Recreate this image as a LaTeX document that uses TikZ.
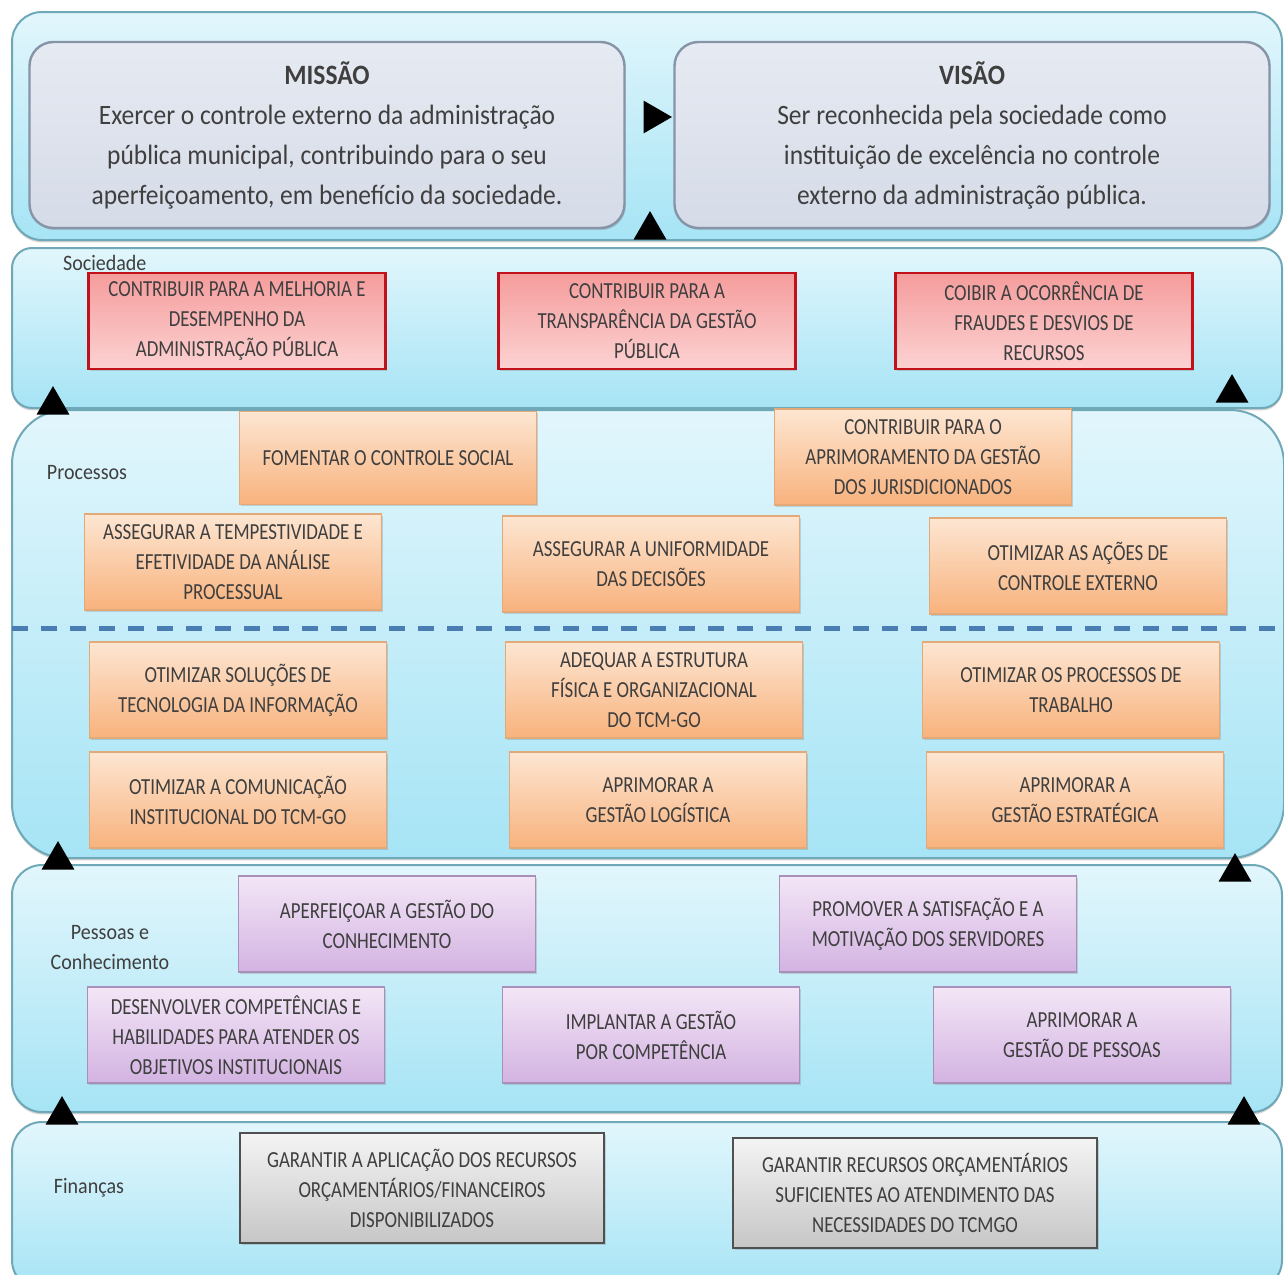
\documentclass[tikz,border=0pt]{standalone}
\usepackage{fontspec}
\setmainfont{Carlito}
\newfontfamily\boxfont[FakeStretch=0.82]{Carlito}
\newfontfamily\headfont[FakeStretch=0.91]{Carlito}
\usepackage{tikz}
\usetikzlibrary{shapes.geometric,shadows}

\definecolor{bandtop}{HTML}{E2F6FC}
\definecolor{bandbot}{HTML}{A6E4F5}
\definecolor{bandline}{HTML}{6FA9B8}
\definecolor{txt}{HTML}{3F3F3F}
\definecolor{redline}{HTML}{C1121C}
\definecolor{redtop}{HTML}{F59C9C}
\definecolor{redbot}{HTML}{FCD2D2}
\definecolor{orgtop}{HTML}{FDE6D2}
\definecolor{orgbot}{HTML}{F8B27D}
\definecolor{orgline}{HTML}{E3A979}
\definecolor{purtop}{HTML}{F3E6F6}
\definecolor{purbot}{HTML}{D3B3E2}
\definecolor{purline}{HTML}{A890B8}
\definecolor{grytop}{HTML}{F4F4F4}
\definecolor{grybot}{HTML}{C6C6C6}
\definecolor{gryline}{HTML}{505050}
\definecolor{mvtop}{HTML}{E6EAF2}
\definecolor{mvbot}{HTML}{D5DBE7}
\definecolor{mvline}{HTML}{8794A8}
\definecolor{dashblue}{HTML}{4A7DB2}

\begin{document}
\begin{tikzpicture}[x=0.5pt, y=-0.5pt,
  band/.style={draw=bandline, line width=1pt, top color=bandtop, bottom color=bandbot, minimum width=635pt, inner sep=0pt,
    drop shadow={opacity=0.35, shadow xshift=0pt, shadow yshift=-1.2pt}},
  goal/.style={line width=0.8pt, align=center, text=txt, font=\boxfont\fontsize{11.5}{15}\selectfont,
    minimum width=148.5pt, minimum height=48pt, inner sep=1pt,
    drop shadow={opacity=0.3, shadow xshift=0.8pt, shadow yshift=-0.8pt}},
  soc/.style={goal, draw=redline, line width=1.4pt, top color=redtop, bottom color=redbot},
  proc/.style={goal, draw=orgline, top color=orgtop, bottom color=orgbot},
  pess/.style={goal, draw=purline, top color=purtop, bottom color=purbot},
  fin/.style={goal, draw=gryline, top color=grytop, bottom color=grybot, minimum width=182pt, minimum height=55pt},
  mv/.style={draw=mvline, line width=1.2pt, rounded corners=12pt, top color=mvtop, bottom color=mvbot, align=center,
    text=txt, font=\headfont\fontsize{14}{20}\selectfont, minimum width=297.5pt, minimum height=93pt,
    drop shadow={opacity=0.35, shadow xshift=0.6pt, shadow yshift=-1pt}},
  persp/.style={text=txt, align=center, font=\headfont\fontsize{11}{15}\selectfont},
  tri/.style={regular polygon, regular polygon sides=3, fill=black, inner sep=0pt, minimum size=19pt}]
  \useasboundingbox (0,0) rectangle (1284,1274);
  \clip (0,0) rectangle (1284,1274);
  \fill[white] (0,0) rectangle (1284,1274);

  % perspective bands, top to bottom
  \node[band, rounded corners=15pt, minimum height=114pt] (bmv) at (647,126) {};
  \node[band, rounded corners=10pt, minimum height=80pt] (bsoc) at (647,328) {};
  \node[band, rounded corners=27pt, minimum height=224pt, minimum width=636pt] (bproc) at (648,634) {};
  \node[band, rounded corners=15pt, minimum height=123.5pt] (bpess) at (647,988.5) {};
  \node[band, rounded corners=15pt, minimum height=84pt] (bfin) at (647,1206) {};

  % mission and vision
  \node[mv] (missao) at (327,135) {\textbf{MISSÃO}\\Exercer o controle externo da administração\\pública municipal, contribuindo para o seu\\aperfeiçoamento, em benefício da sociedade.};
  \node[mv] (visao) at (972,135) {\textbf{VISÃO}\\Ser reconhecida pela sociedade como\\instituição de excelência no controle\\externo da administração pública.};

  % Sociedade
  \node[persp, anchor=west] (lsoc) at (56,263) {Sociedade};
  \node[soc] (s1) at (237,321) {CONTRIBUIR PARA A MELHORIA E\\DESEMPENHO DA\\ADMINISTRAÇÃO PÚBLICA};
  \node[soc] (s2) at (647,321) {CONTRIBUIR PARA A\\TRANSPARÊNCIA DA GESTÃO\\PÚBLICA};
  \node[soc] (s3) at (1044,321) {COIBIR A OCORRÊNCIA DE\\FRAUDES E DESVIOS DE\\RECURSOS};

  % Processos
  \node[persp] (lproc) at (87,473) {Processos};
  \node[proc, minimum height=46.5pt] (p1) at (388,458) {FOMENTAR O CONTROLE SOCIAL};
  \node[proc] (p2) at (923,457) {CONTRIBUIR PARA O\\APRIMORAMENTO DA GESTÃO\\DOS JURISDICIONADOS};
  \node[proc] (p3) at (233,562) {ASSEGURAR A TEMPESTIVIDADE E\\EFETIVIDADE DA ANÁLISE\\PROCESSUAL};
  \node[proc] (p4) at (651,564) {ASSEGURAR A UNIFORMIDADE\\DAS DECISÕES};
  \node[proc] (p5) at (1078,566) {OTIMIZAR AS AÇÕES DE\\CONTROLE EXTERNO};
  \draw[dashblue, line width=2.5pt, dash pattern=on 8pt off 6.5pt] (12,628) -- (1284,628);
  \node[proc] (p6) at (238,690) {OTIMIZAR SOLUÇÕES DE\\TECNOLOGIA DA INFORMAÇÃO};
  \node[proc] (p7) at (654,690) {ADEQUAR A ESTRUTURA\\FÍSICA E ORGANIZACIONAL\\DO TCM-GO};
  \node[proc] (p8) at (1071,690) {OTIMIZAR OS PROCESSOS DE\\TRABALHO};
  \node[proc] (p9) at (238,800) {OTIMIZAR A COMUNICAÇÃO\\INSTITUCIONAL DO TCM-GO};
  \node[proc] (p10) at (658,800) {APRIMORAR A\\GESTÃO LOGÍSTICA};
  \node[proc] (p11) at (1075,800) {APRIMORAR A\\GESTÃO ESTRATÉGICA};

  % Pessoas e Conhecimento
  \node[persp] (lpess) at (110,948) {Pessoas e\\Conhecimento};
  \node[pess] (k1) at (387,924) {APERFEIÇOAR A GESTÃO DO\\CONHECIMENTO};
  \node[pess] (k2) at (928,924) {PROMOVER A SATISFAÇÃO E A\\MOTIVAÇÃO DOS SERVIDORES};
  \node[pess] (k3) at (236,1035) {DESENVOLVER COMPETÊNCIAS E\\HABILIDADES PARA ATENDER OS\\OBJETIVOS INSTITUCIONAIS};
  \node[pess] (k4) at (651,1035) {IMPLANTAR A GESTÃO\\POR COMPETÊNCIA};
  \node[pess] (k5) at (1082,1035) {APRIMORAR A\\GESTÃO DE PESSOAS};

  % Financas
  \node[persp] (lfin) at (89,1188) {Finanças};
  \node[fin] (f1) at (422,1188) {GARANTIR A APLICAÇÃO DOS RECURSOS\\ORÇAMENTÁRIOS/FINANCEIROS\\DISPONIBILIZADOS};
  \node[fin] (f2) at (915,1193) {GARANTIR RECURSOS ORÇAMENTÁRIOS\\SUFICIENTES AO ATENDIMENTO DAS\\NECESSIDADES DO TCMGO};

  % arrow heads between the bands
  \node[tri, rotate=-90] (tmv) at (653,117) {};
  \node[tri, anchor=south] (t0) at (650,240) {};
  \node[tri, anchor=south] (t1) at (53,415) {};
  \node[tri, anchor=south] (t2) at (1232,403) {};
  \node[tri, anchor=south] (t3) at (58,870) {};
  \node[tri, anchor=south] (t4) at (1235,882) {};
  \node[tri, anchor=south] (t5) at (62,1125) {};
  \node[tri, anchor=south] (t6) at (1244,1125) {};
\end{tikzpicture}
\end{document}
